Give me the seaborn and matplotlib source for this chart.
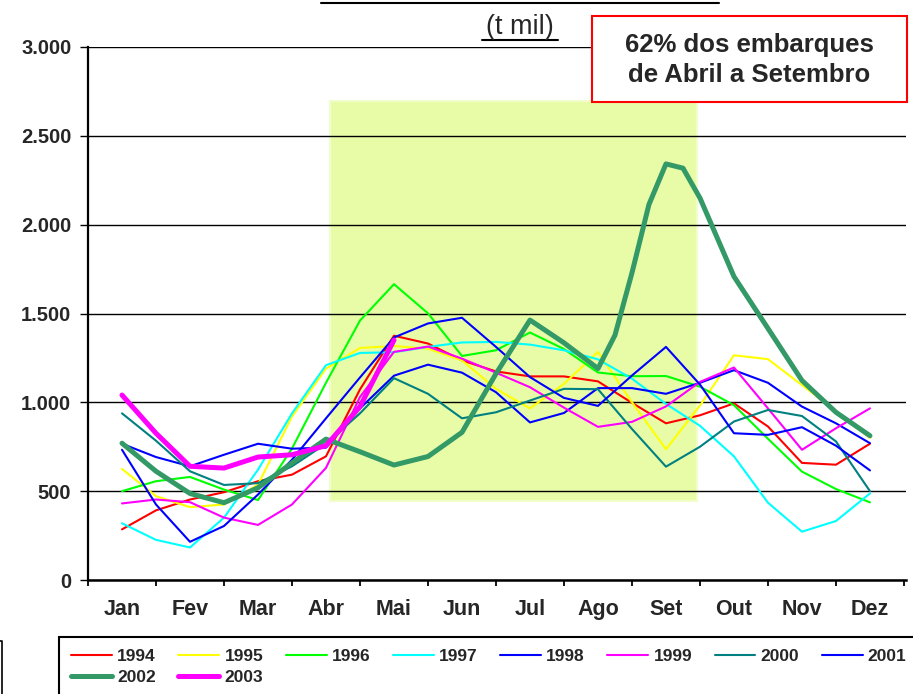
import numpy as np
import pandas as pd
import matplotlib
matplotlib.use("Agg")
import matplotlib.pyplot as plt
from matplotlib.patches import Rectangle
from matplotlib.lines import Line2D
import seaborn as sns

# ---------------- data (t mil) ----------------
months = ['Jan', 'Fev', 'Mar', 'Abr', 'Mai', 'Jun', 'Jul', 'Ago', 'Set', 'Out', 'Nov', 'Dez']
# sample positions: half-month steps (0 = Jan ... 11 = Dez)
pos_half = [0, 0.5, 1, 1.5, 2, 2.5, 3, 3.5, 4, 4.5, 5, 5.5, 6, 6.5, 7, 7.5, 8, 8.5, 9, 9.5, 10, 10.5, 11]
pos_2002 = [0, 0.5, 1, 1.5, 2, 2.5, 3, 3.5, 4, 4.5, 5, 5.5, 6, 6.5, 7, 7.25, 7.5, 7.75, 8, 8.25, 8.5, 8.75, 9, 9.5, 10, 10.5, 11]
pos_2003 = [0, 0.5, 1, 1.5, 2, 2.5, 3, 3.5, 4]

y1994 = [285, 392, 453, 494, 556, 593, 696, 1073, 1375, 1331, 1236, 1174, 1146, 1146, 1118, 997, 882, 927, 994, 864, 659, 649, 767]
y1995 = [625, 472, 410, 425, 537, 920, 1190, 1306, 1317, 1302, 1236, 1076, 966, 1104, 1284, 1000, 736, 982, 1265, 1243, 1097, 951, 800]
y1996 = [500, 556, 580, 509, 450, 740, 1110, 1460, 1665, 1501, 1261, 1293, 1393, 1300, 1168, 1147, 1148, 1088, 984, 795, 610, 512, 437]
y1997 = [319, 226, 183, 351, 621, 938, 1209, 1278, 1282, 1312, 1337, 1340, 1325, 1293, 1242, 1133, 991, 868, 696, 435, 272, 332, 487]
y1998 = [767, 692, 640, 705, 767, 739, 745, 966, 1150, 1212, 1167, 1057, 887, 940, 1080, 1080, 1048, 1110, 1181, 1110, 976, 882, 770]
y1999 = [431, 453, 438, 351, 310, 425, 631, 1030, 1284, 1314, 1246, 1167, 1085, 970, 862, 890, 977, 1115, 1196, 966, 733, 854, 966]
y2000 = [938, 784, 612, 535, 545, 640, 767, 938, 1136, 1048, 910, 944, 1010, 1076, 1074, 850, 638, 750, 892, 957, 923, 780, 500]
y2001 = [733, 425, 215, 304, 481, 677, 910, 1140, 1365, 1444, 1476, 1312, 1142, 1025, 980, 1151, 1312, 1100, 826, 817, 860, 756, 617]
y2002 = [770, 612, 487, 435, 519, 659, 793, 722, 647, 695, 831, 1161, 1463, 1335, 1190, 1378, 1729, 2114, 2342, 2318, 2150, 1929, 1708, 1416, 1123, 944, 812]
y2003 = [1041, 826, 640, 630, 692, 705, 756, 976, 1350]

years = ['1994', '1995', '1996', '1997', '1998', '1999', '2000', '2001', '2002', '2003']
colors = ['#FF0000', '#FFFF00', '#00FF00', '#00FFFF', '#0000FF', '#FF00FF', '#008080', '#0000FF', '#339966', '#FF00FF']

y_ticks = [0, 500, 1000, 1500, 2000, 2500, 3000]
y_ticklabels = ['0', '500', '1.000', '1.500', '2.000', '2.500', '3.000']

series = [
    (pos_half, y1994), (pos_half, y1995), (pos_half, y1996), (pos_half, y1997),
    (pos_half, y1998), (pos_half, y1999), (pos_half, y2000), (pos_half, y2001),
    (pos_2002, y2002), (pos_2003, y2003),
]
widths = [1.5, 1.5, 1.5, 1.5, 1.5, 1.5, 1.5, 1.5, 3.6, 3.6]

# ---------------- style ----------------
sns.set_style('white')
plt.rcParams['font.family'] = ['Liberation Sans', 'DejaVu Sans']
plt.rcParams['font.weight'] = 'bold'

W, H = 913, 694
fig = plt.figure(figsize=(W / 100, H / 100), dpi=100)
ax = fig.add_axes([88 / W, 1 - 580 / H, (906 - 88) / W, (580 - 47) / H])

# highlighted period (Abril a Setembro)
ax.add_patch(Rectangle((3.06, 442), 8.46 - 3.06, 2695 - 442, facecolor='#E8FCA8',
                       edgecolor='#F2FDCC', linewidth=1.5, zorder=0.3))

for (xs, ys), yr, c, lw in zip(series, years, colors, widths):
    df = pd.DataFrame({'pos': xs, 'valor': ys})
    sns.lineplot(data=df, x='pos', y='valor', ax=ax, color=c, linewidth=lw,
                 label=yr, sort=False, estimator=None, zorder=3,
                 solid_joinstyle='round', solid_capstyle='round')

ax.set_xlim(-0.5, 11.53)
ax.set_ylim(0, 3000)
ax.set_xlabel('')
ax.set_ylabel('')

# x: ticks at month boundaries, labels at month centres
ax.set_xticks(np.arange(-0.5, 12, 1))
ax.set_xticklabels([])
ax.set_xticks(range(12), minor=True)
ax.set_xticklabels(months, minor=True, fontsize=15.5, fontweight='bold')
ax.tick_params(axis='x', which='major', length=4.5, width=1.3, direction='out', color='black', bottom=True)
ax.tick_params(axis='x', which='minor', length=0, pad=14)

ax.set_yticks(y_ticks)
ax.set_yticklabels(y_ticklabels, fontsize=14.5, fontweight='bold')
ax.tick_params(axis='y', length=6, width=1.0, direction='out', color='black', pad=6, left=True)

ax.set_axisbelow(True)
ax.yaxis.grid(True, color='black', linewidth=1.0, zorder=0.5)
ax.xaxis.grid(False)

for s in ['top', 'right']:
    ax.spines[s].set_visible(False)
ax.spines['left'].set_linewidth(1.6)
ax.spines['left'].set_color('black')
ax.spines['bottom'].set_linewidth(1.8)
ax.spines['bottom'].set_color('black')

# legend (reordered so that matplotlib's column filling gives rows 1994..2001 / 2002, 2003)
handles, labels = ax.get_legend_handles_labels()
ax.get_legend().remove()
hmap = dict(zip(labels, handles))
order = ['1994', '2002', '1995', '2003', '1996', '1997', '1998', '1999', '2000', '2001']
leg = fig.legend([hmap[k] for k in order], order, loc='upper left',
                 bbox_to_anchor=(59 / W, 1 - 637 / H),
                 bbox_transform=fig.transFigure, ncol=8, frameon=True, fancybox=False,
                 edgecolor='black', framealpha=1, borderaxespad=0, borderpad=0.7,
                 handlelength=2.35, handletextpad=0.3, columnspacing=1.3, labelspacing=0.3,
                 prop={'size': 12.5, 'weight': 'bold'})
leg.get_frame().set_linewidth(1.5)

# annotation box
fig.text(749 / W, 1 - 60 / H, '62% dos embarques\nde Abril a Setembro', ha='center', va='center',
         fontsize=18.5, fontweight='bold', linespacing=1.32, zorder=10)
fig.add_artist(Rectangle((592 / W, 1 - 102 / H), (907 - 592) / W, (102 - 16) / H,
                         transform=fig.transFigure, facecolor='white', edgecolor='#FF0000',
                         linewidth=1.5, zorder=5))

# subtitle (t mil), underlined
fig.text(520 / W, 1 - 27 / H, '(t mil)', ha='center', va='center', fontsize=19.5, fontweight='normal')
fig.add_artist(Line2D([482 / W, 558 / W], [1 - 40 / H, 1 - 40 / H], color='black', linewidth=1.5))
# underline of the cropped title line above
fig.add_artist(Line2D([321 / W, 719 / W], [1 - 3 / H, 1 - 3 / H], color='black', linewidth=1.5))
# edge of a neighbouring frame at bottom left
fig.add_artist(Line2D([0, 2 / W, 2 / W], [1 - 641 / H, 1 - 641 / H, 0], color='black', linewidth=1.2))

fig.savefig('out.png', dpi=100)
